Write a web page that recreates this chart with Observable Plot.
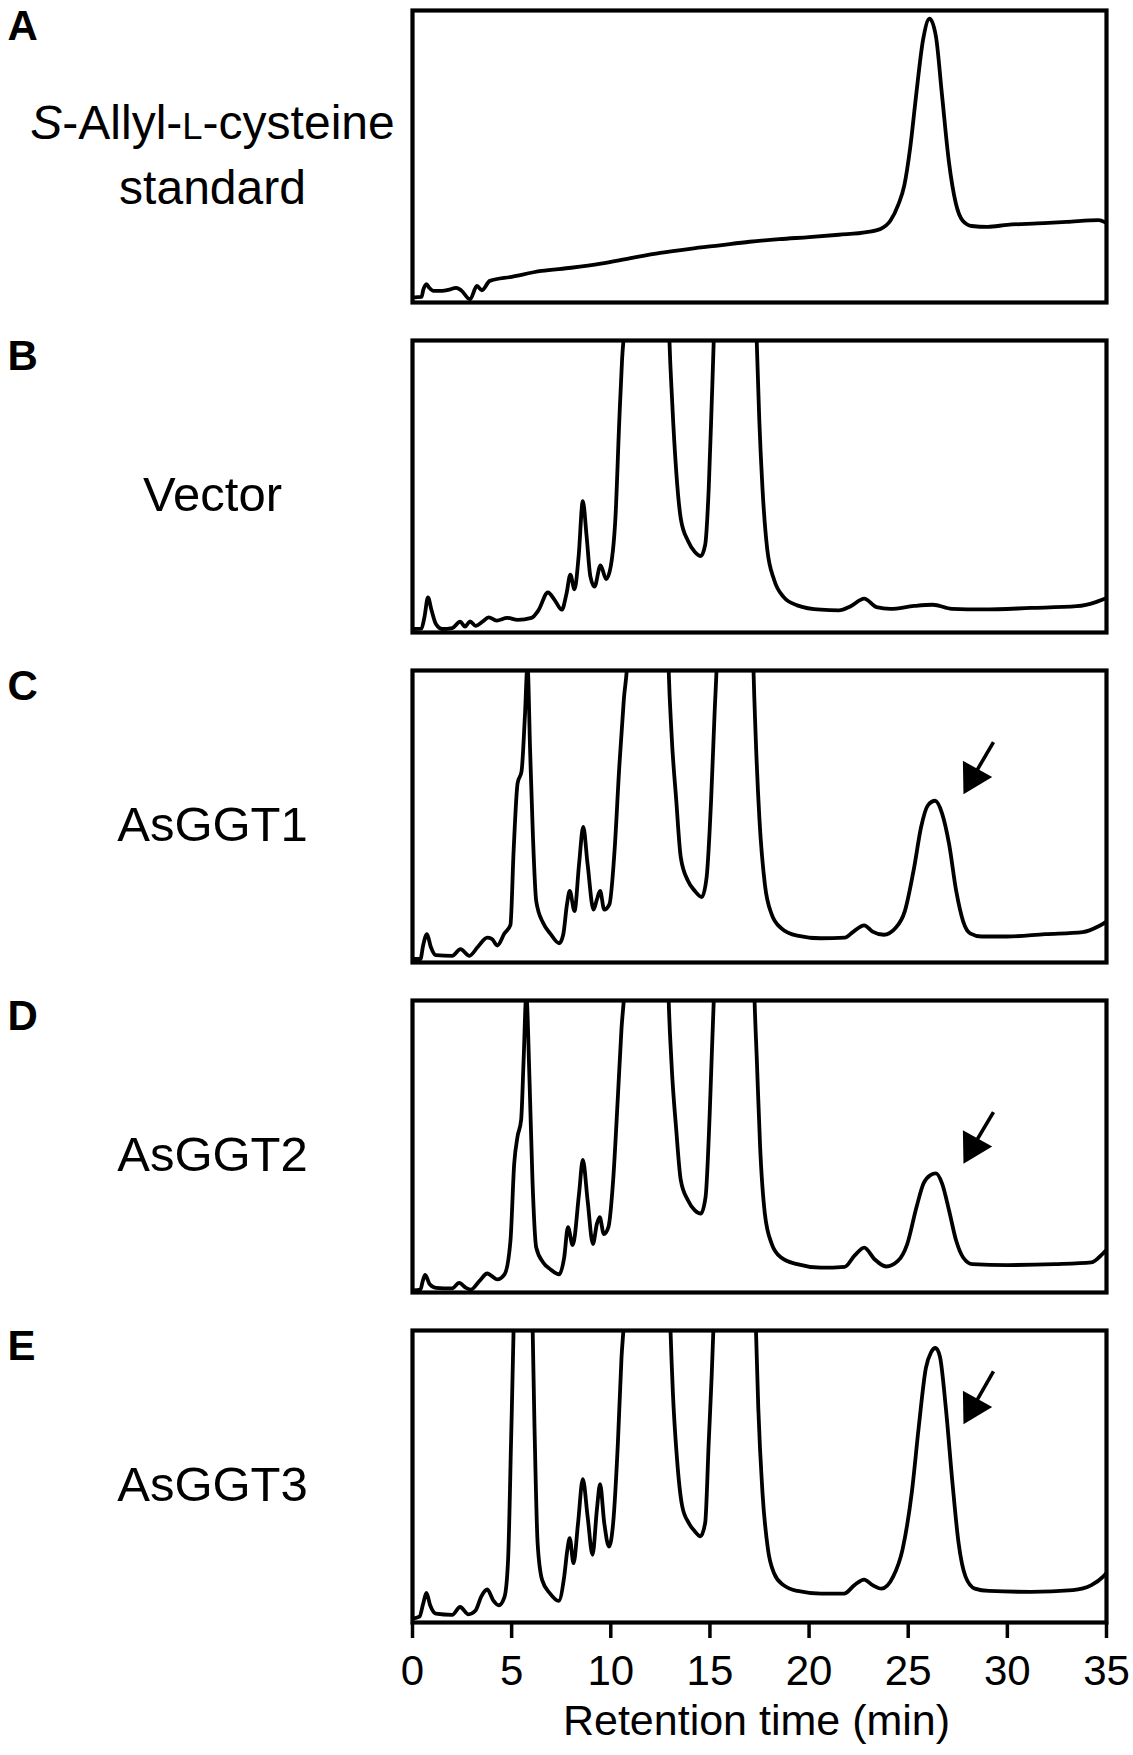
<!DOCTYPE html>
<html><head><meta charset="utf-8">
<script src="https://cdn.jsdelivr.net/npm/d3@7"></script>
<script src="https://cdn.jsdelivr.net/npm/@observablehq/plot@0.6"></script>
<style>
html,body{margin:0;padding:0;background:#fff;}
#chart{width:1133px;}
#chart svg{display:block;}
</style></head><body><div id="chart"></div>
<script>
// ---- data (retention time in min, detector signal in % of panel height) ----
const panelLetters = ["A", "B", "C", "D", "E"];
const sampleLabels = ["S-Allyl-L-cysteine\nstandard", "Vector", "AsGGT1", "AsGGT2", "AsGGT3"];
const xTicks = [0, 5, 10, 15, 20, 25, 30, 35];
const axisTitle = "Retention time (min)";

const traceA = [[0,1.7],[0.45,1.9],[0.55,4.5],[0.7,6.3],[0.85,5.0],[1.06,4.0],[1.5,4.0],[1.8,4.3],[2.2,5.0],[2.45,4.2],[2.9,1.1],[3.25,5.7],[3.5,4.2],[3.9,7.4],[5,8.8],[6.5,10.8],[8,11.9],[9.5,13.3],[11,15.2],[12.5,17.0],[14,18.4],[15.5,19.6],[17,20.8],[18.5,21.7],[20,22.4],[21.5,23.2],[22.9,24.1],[23.6,25.2],[24.1,28.0],[24.5,33.5],[24.8,40],[25.1,53],[25.4,71],[25.75,90],[26.08,97.2],[26.4,91],[26.7,71.3],[27.05,48.3],[27.4,34],[27.75,28],[28.2,26.2],[29,25.9],[30,26.6],[31.5,27.1],[33,27.6],[34.6,28.2],[35,27.2]];

const traceB = [[0,1.2],[0.45,1.3],[0.6,5.2],[0.78,12],[0.96,7.6],[1.18,2.9],[1.5,1.2],[2.0,1.5],[2.4,3.7],[2.65,2.0],[2.9,3.8],[3.18,2.3],[3.53,3.7],[3.84,5.2],[4.24,4.1],[4.78,5.0],[5.3,4.3],[6.0,5.0],[6.35,7.6],[6.83,13.7],[7.18,11],[7.53,7.8],[7.77,13.4],[7.96,19.8],[8.17,14.8],[8.38,26.2],[8.59,45],[8.78,33],[8.97,19.2],[9.18,15.7],[9.48,23],[9.77,18.3],[10.0,22.7],[10.24,40],[10.43,72.7],[10.57,93.6],[10.72,108],[11.2,250],[12.0,400],[12.6,250],[12.94,104],[13.1,78.5],[13.3,55.2],[13.53,39],[13.89,31.4],[14.24,27.6],[14.54,26.2],[14.76,30],[14.94,49.4],[15.09,78.5],[15.22,106],[15.6,250],[16.3,400],[16.9,250],[17.33,106],[17.49,72.7],[17.65,49.4],[17.89,28.5],[18.24,18],[18.71,12.2],[19.4,9.3],[20.6,7.8],[21.5,7.6],[22.1,9],[22.78,11.6],[23.4,8.7],[24.1,8.1],[25.3,9.1],[26.24,9.5],[27.2,8.1],[28.8,7.9],[31.2,8.4],[33.5,9],[34.5,10.5],[35,11.8]];

const traceC = [[0,1.2],[0.4,1.2],[0.54,6],[0.73,9.7],[0.92,5.4],[1.18,2.5],[2.0,2.3],[2.42,4.6],[2.87,2.3],[3.3,5.4],[3.77,8.5],[4.0,8.1],[4.28,5.8],[4.64,10],[4.94,12.9],[5.1,38.3],[5.3,61.4],[5.5,65.5],[5.67,84.5],[5.8,102],[5.93,73],[6.07,44],[6.24,21],[6.59,13.5],[6.94,10],[7.4,6.6],[7.6,9.5],[7.79,19.9],[7.93,24.5],[8.17,17.6],[8.4,33.7],[8.61,46.4],[8.83,33.7],[9.13,18.1],[9.3,21.6],[9.46,24.5],[9.67,18.1],[9.93,19.9],[10.19,38.3],[10.43,67.2],[10.66,90.3],[10.85,105],[11.3,250],[12.0,400],[12.6,250],[12.9,105],[13.06,78.8],[13.3,55.7],[13.53,36],[13.89,28],[14.24,24.5],[14.59,22.4],[14.83,29],[15.06,55.7],[15.23,84.5],[15.36,105],[15.8,250],[16.4,400],[16.9,250],[17.18,105],[17.3,78.8],[17.49,49.9],[17.77,26.8],[18.12,16.4],[18.59,11.8],[19.4,9.2],[20.6,8.3],[21.8,8.5],[22.24,10.6],[22.78,12.7],[23.2,10.6],[23.77,9.5],[24.36,11.8],[24.83,17.6],[25.3,32.6],[25.65,46.4],[26.0,53.9],[26.36,55.4],[26.71,51],[27.06,40.6],[27.42,24.5],[27.77,14.1],[28.12,10],[28.7,8.9],[30,8.9],[31.9,9.7],[33.8,10.4],[34.6,12.4],[35,14]];

const traceD = [[0,0.7],[0.4,1.0],[0.52,4],[0.64,6],[0.87,2.8],[1.18,1.6],[2.0,1.4],[2.35,3.3],[2.7,1.6],[2.94,1.0],[3.37,3.9],[3.77,6.5],[4.0,5.6],[4.28,4.5],[4.64,6.2],[4.94,17.7],[5.13,44.2],[5.3,53.5],[5.48,59.2],[5.6,78.8],[5.74,102],[5.9,73],[6.05,38.5],[6.24,15.4],[6.59,10.3],[6.94,8],[7.4,6.2],[7.65,12],[7.84,22.4],[8.08,16.2],[8.4,33.9],[8.59,45.4],[8.83,31.6],[9.1,16.6],[9.3,23.5],[9.44,25.8],[9.65,20],[9.88,22.4],[10.12,38.5],[10.36,67.3],[10.54,90.3],[10.7,105],[11.2,250],[12.0,400],[12.6,250],[12.9,105],[13.06,78.8],[13.3,55.8],[13.53,38.5],[13.89,31.6],[14.24,28.1],[14.54,27],[14.78,32.7],[14.99,61.5],[15.11,84.6],[15.22,105],[15.7,250],[16.3,400],[16.9,250],[17.23,105],[17.37,78.8],[17.53,50],[17.77,27],[18.12,16.6],[18.59,12],[19.4,9.7],[20.6,8.5],[21.8,8.8],[22.29,12.6],[22.78,15.4],[23.3,11.4],[23.89,8.9],[24.48,10.8],[24.95,16.6],[25.42,29.3],[25.77,37.3],[26.12,40.2],[26.4,40.8],[26.71,37.3],[27.06,28.1],[27.42,17.7],[27.77,12],[28.24,9.7],[30,9.4],[32.4,9.7],[34.24,10.3],[34.83,13.4],[35,14.5]];

const traceE = [[0,1.3],[0.35,2],[0.54,6.5],[0.7,10.1],[0.89,5.9],[1.18,3],[2.0,2.6],[2.4,5.3],[2.82,2.8],[3.18,4.1],[3.46,8.8],[3.77,11.3],[4.07,7.6],[4.35,5.9],[4.64,8.8],[4.82,21.4],[4.97,61.8],[5.11,104],[5.4,250],[5.6,350],[5.85,250],[6.05,104],[6.17,61.8],[6.31,27.2],[6.54,14.5],[6.94,9.9],[7.37,7.4],[7.65,15.7],[7.81,24.9],[7.93,28.9],[8.12,20.3],[8.35,34.1],[8.59,49.1],[8.83,36.4],[9.08,23.2],[9.3,38.7],[9.46,47.4],[9.67,34.1],[9.91,26],[10.12,34.1],[10.36,61.8],[10.54,90.6],[10.68,105],[11.2,250],[12.0,400],[12.6,250],[12.99,105],[13.13,79],[13.34,56],[13.6,39.9],[13.93,34.1],[14.24,31.2],[14.52,29.5],[14.76,34.1],[14.94,61.8],[15.09,84.8],[15.2,105],[15.7,250],[16.3,400],[16.9,250],[17.3,105],[17.44,73.3],[17.65,44.5],[17.93,24.9],[18.24,16.8],[18.71,12.8],[19.42,10.8],[20.6,9.9],[21.77,9.9],[22.29,12.8],[22.78,14.7],[23.2,12.8],[23.65,11.6],[24.24,15.7],[24.71,24.9],[25.18,44.5],[25.54,67.5],[25.89,87.1],[26.15,92.5],[26.38,94],[26.6,91],[26.9,73.3],[27.23,47.9],[27.54,27.2],[27.89,15.7],[28.36,11.6],[29.07,10.8],[31.18,10.5],[33.3,11.1],[34.24,12.8],[34.83,15.7],[35,17]];

// arrows marking the S-allyl-L-cysteine peak
const arrowPanels = ["C", "D", "E"];
const arrowTailT = [29.3, 29.3, 29.3];
const arrowTailY = [75.5, 61.8, 86];
const arrowHeadT = [28.26, 28.26, 28.26];
const arrowHeadY = [63.4, 49.9, 73.7];

// ---- drawing ----
const FONT = "'Liberation Sans', Arial, Helvetica, sans-serif";
const traces = [traceA, traceB, traceC, traceD, traceE];

function panel(i) {
  const last = i === traces.length - 1;
  const marks = [
    Plot.line(traces[i], {x: d => d[0], y: d => d[1], curve: "monotone-x", stroke: "black",
      strokeWidth: 3.8, strokeLinejoin: "round", strokeLinecap: "round", clip: true}),
    Plot.frame({stroke: "black", strokeWidth: 4.2}),
    Plot.text([panelLetters[i]], {text: d => d, frameAnchor: "top-left", dx: -405, dy: 29,
      textAnchor: "start", lineAnchor: "bottom", fontSize: 42, fontWeight: "bold", fill: "black"}),
    Plot.text([sampleLabels[i]], {text: d => d, frameAnchor: "left", dx: -200, dy: i === 0 ? -6 : 9,
      textAnchor: "middle", lineAnchor: "middle", lineHeight: i === 0 ? 1.36 : 1,
      fontSize: i === 0 ? 48 : 49, fill: "black"})
  ];
  const ai = arrowPanels.indexOf(panelLetters[i]);
  if (ai >= 0) {
    const a = [ai];
    marks.push(Plot.link(a, {x1: j => arrowTailT[j], y1: j => arrowTailY[j], x2: j => arrowHeadT[j], y2: j => arrowHeadY[j],
      stroke: "black", strokeWidth: 3.6}));
    marks.push(Plot.dot(a, {x: j => arrowHeadT[j], y: j => arrowHeadY[j], symbol: "triangle2", r: 16,
      fill: "black", stroke: "none", rotate: 209}));
  }
  if (last) {
    marks.push(Plot.axisX({ticks: xTicks, tickSize: 16, tickPadding: 17, strokeWidth: 3.5, fontSize: 42,
      label: null, tickFormat: d => String(d), fill: "black", stroke: "black"}));
    marks.push(Plot.text([axisTitle], {text: d => d, frameAnchor: "bottom", dx: -3, dy: 112,
      lineAnchor: "bottom", textAnchor: "middle", fontSize: 43, fill: "black"}));
  }
  return Plot.plot({
    width: 1133,
    height: last ? 425 : 330,
    marginLeft: 412, marginRight: 27, marginTop: 10, marginBottom: last ? 123 : 28,
    x: last ? {domain: [0, 35]} : {domain: [0, 35], axis: null},
    y: {domain: [0, 100], axis: null},
    style: {fontFamily: FONT, background: "white", color: "black", overflow: "visible"},
    marks
  });
}

const chart = document.getElementById("chart");
for (let i = 0; i < traces.length; ++i) {
  const svg = panel(i);
  if (i === 0) {
    // italic S and small-capital L in the standard's name
    const first = sampleLabels[0].split("\n")[0];
    const ns = "http://www.w3.org/2000/svg";
    for (const el of svg.querySelectorAll("tspan")) {
      if (el.textContent === first && el.children.length === 0) {
        el.textContent = "";
        const s = document.createElementNS(ns, "tspan");
        s.setAttribute("font-style", "italic");
        s.textContent = "S";
        const l = document.createElementNS(ns, "tspan");
        l.setAttribute("font-size", "0.76em");
        l.textContent = "L";
        el.append(s, "-Allyl-", l, "-cysteine");
      }
    }
  }
  chart.appendChild(svg);
}
</script></body></html>
